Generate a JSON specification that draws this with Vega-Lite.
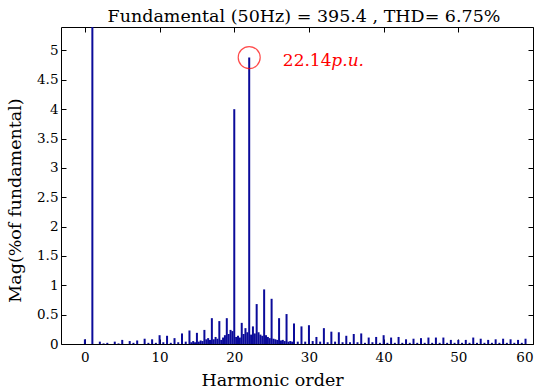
{
  "$schema": "https://vega.github.io/schema/vega-lite/v6.json",
  "autosize": "none",
  "width": 472,
  "height": 317,
  "padding": {"left": 61, "top": 27, "right": 17, "bottom": 47},
  "background": "white",
  "config": {
    "view": {"stroke": "black", "strokeWidth": 1},
    "font": "DejaVu Serif",
    "axis": {"labelFont": "DejaVu Serif", "titleFont": "DejaVu Serif", "labelFontSize": 13.5, "titleFontSize": 17.5, "titleFontWeight": "normal", "labelColor": "black", "titleColor": "black", "tickColor": "black", "domain": false, "grid": false, "tickSize": -5, "tickWidth": 1}
  },
  "title": {"text": "Fundamental (50Hz) = 395.4 , THD= 6.75%", "font": "DejaVu Serif", "fontSize": 17.5, "fontWeight": "normal", "color": "black", "anchor": "middle", "baseline": "alphabetic", "offset": -13, "dx": 7},
  "datasets": {
    "spec": [
      {"h": 0, "mag": 0.08}, {"h": 1, "mag": 100}, {"h": 2, "mag": 0.04}, {"h": 3, "mag": 0.02}, {"h": 4, "mag": 0.04},
      {"h": 5, "mag": 0.07}, {"h": 6, "mag": 0.05}, {"h": 7, "mag": 0.06}, {"h": 8, "mag": 0.09}, {"h": 9, "mag": 0.08},
      {"h": 10, "mag": 0.15}, {"h": 11, "mag": 0.14}, {"h": 12, "mag": 0.10}, {"h": 13, "mag": 0.18}, {"h": 14, "mag": 0.23},
      {"h": 15, "mag": 0.19}, {"h": 16, "mag": 0.24}, {"h": 17, "mag": 0.44}, {"h": 18, "mag": 0.39}, {"h": 19, "mag": 0.44},
      {"h": 20, "mag": 4.0}, {"h": 21, "mag": 0.36}, {"h": 22, "mag": 4.88}, {"h": 23, "mag": 0.68}, {"h": 24, "mag": 0.93},
      {"h": 25, "mag": 0.77}, {"h": 26, "mag": 0.44}, {"h": 27, "mag": 0.51}, {"h": 28, "mag": 0.35}, {"h": 29, "mag": 0.30},
      {"h": 30, "mag": 0.32}, {"h": 31, "mag": 0.12}, {"h": 32, "mag": 0.27}, {"h": 33, "mag": 0.21}, {"h": 34, "mag": 0.20},
      {"h": 35, "mag": 0.14}, {"h": 36, "mag": 0.17}, {"h": 37, "mag": 0.18}, {"h": 38, "mag": 0.11}, {"h": 39, "mag": 0.12},
      {"h": 40, "mag": 0.15}, {"h": 41, "mag": 0.11}, {"h": 42, "mag": 0.12}, {"h": 43, "mag": 0.08}, {"h": 44, "mag": 0.09},
      {"h": 45, "mag": 0.10}, {"h": 46, "mag": 0.11}, {"h": 47, "mag": 0.11}, {"h": 48, "mag": 0.11}, {"h": 49, "mag": 0.07},
      {"h": 50, "mag": 0.07}, {"h": 51, "mag": 0.07}, {"h": 52, "mag": 0.11}, {"h": 53, "mag": 0.09}, {"h": 54, "mag": 0.07},
      {"h": 55, "mag": 0.08}, {"h": 56, "mag": 0.09}, {"h": 57, "mag": 0.08}, {"h": 58, "mag": 0.07}, {"h": 59, "mag": 0.09},
      {"h": 2.5, "mag": 0.01}, {"h": 4.5, "mag": 0.01}, {"h": 6.5, "mag": 0.02}, {"h": 8.5, "mag": 0.02}, {"h": 9.5, "mag": 0.02},
      {"h": 10.5, "mag": 0.03}, {"h": 11.5, "mag": 0.02}, {"h": 12.5, "mag": 0.03}, {"h": 13.5, "mag": 0.04},
      {"h": 14.25, "mag": 0.03}, {"h": 14.5, "mag": 0.05}, {"h": 14.75, "mag": 0.03},
      {"h": 15.25, "mag": 0.04}, {"h": 15.5, "mag": 0.06}, {"h": 15.75, "mag": 0.05},
      {"h": 16.25, "mag": 0.08}, {"h": 16.5, "mag": 0.10}, {"h": 16.75, "mag": 0.07},
      {"h": 17.25, "mag": 0.08}, {"h": 17.5, "mag": 0.12}, {"h": 17.75, "mag": 0.09},
      {"h": 18.25, "mag": 0.07}, {"h": 18.5, "mag": 0.11}, {"h": 18.75, "mag": 0.15},
      {"h": 19.25, "mag": 0.17}, {"h": 19.5, "mag": 0.24}, {"h": 19.75, "mag": 0.22},
      {"h": 20.25, "mag": 0.12}, {"h": 20.5, "mag": 0.14}, {"h": 20.75, "mag": 0.11},
      {"h": 21.25, "mag": 0.17}, {"h": 21.5, "mag": 0.27}, {"h": 21.75, "mag": 0.20},
      {"h": 22.25, "mag": 0.16}, {"h": 22.5, "mag": 0.30}, {"h": 22.75, "mag": 0.18},
      {"h": 23.25, "mag": 0.20}, {"h": 23.5, "mag": 0.16}, {"h": 23.75, "mag": 0.14},
      {"h": 24.25, "mag": 0.15}, {"h": 24.5, "mag": 0.12}, {"h": 24.75, "mag": 0.10},
      {"h": 25.25, "mag": 0.09}, {"h": 25.5, "mag": 0.08}, {"h": 25.75, "mag": 0.07},
      {"h": 26.25, "mag": 0.06}, {"h": 26.5, "mag": 0.07}, {"h": 26.75, "mag": 0.05},
      {"h": 27.25, "mag": 0.04}, {"h": 27.5, "mag": 0.05}, {"h": 27.75, "mag": 0.04},
      {"h": 28.5, "mag": 0.04}, {"h": 29.5, "mag": 0.04}, {"h": 30.5, "mag": 0.05}, {"h": 31.5, "mag": 0.04},
      {"h": 32.5, "mag": 0.03}, {"h": 33.5, "mag": 0.04}, {"h": 34.5, "mag": 0.03}, {"h": 35.5, "mag": 0.03},
      {"h": 36.5, "mag": 0.03}, {"h": 37.5, "mag": 0.02}, {"h": 38.5, "mag": 0.03}, {"h": 39.5, "mag": 0.02},
      {"h": 40.5, "mag": 0.02}, {"h": 41.5, "mag": 0.02}, {"h": 42.5, "mag": 0.02}, {"h": 43.5, "mag": 0.02},
      {"h": 44.5, "mag": 0.02}, {"h": 45.5, "mag": 0.02}, {"h": 46.5, "mag": 0.02}, {"h": 47.5, "mag": 0.02},
      {"h": 48.5, "mag": 0.02}, {"h": 49.5, "mag": 0.02}, {"h": 50.5, "mag": 0.02}, {"h": 51.5, "mag": 0.02},
      {"h": 52.5, "mag": 0.02}, {"h": 53.5, "mag": 0.02}, {"h": 54.5, "mag": 0.02}, {"h": 55.5, "mag": 0.02},
      {"h": 56.5, "mag": 0.02}, {"h": 57.5, "mag": 0.02}, {"h": 58.5, "mag": 0.02}
    ],
    "note": [{"h": 22, "mag": 4.88, "lx": 26.5, "px": 33.0, "ly": 4.73, "num": "22.14", "unit": "p.u."}]
  },
  "layer": [
    {
      "data": {"name": "spec"},
      "mark": {"type": "bar", "size": 2, "color": "#0b0b9a", "clip": true},
      "encoding": {
        "x": {"field": "h", "type": "quantitative", "scale": {"domain": [-3.2, 60], "nice": false, "zero": false, "padding": 0},
          "axis": {"orient": "bottom", "values": [0, 10, 20, 30, 40, 50, 60], "labelPadding": 11, "title": "Harmonic order", "titleX": 211, "titleY": 41, "titleBaseline": "alphabetic", "titleAlign": "center", "titleAnchor": null}},
        "y": {"field": "mag", "type": "quantitative", "scale": {"domain": [0, 5.4], "nice": false, "padding": 0},
          "axis": {"orient": "left", "values": [0, 0.5, 1, 1.5, 2, 2.5, 3, 3.5, 4, 4.5, 5], "format": "~g", "labelPadding": 8, "title": "Mag(%of fundamental)", "titleX": -41, "titleY": 173, "titleBaseline": "alphabetic", "titleAlign": "center", "titleAnchor": null, "titleAngle": -90}}
      }
    },
    {
      "data": {"name": "note"},
      "mark": {"type": "point", "shape": "circle", "filled": false, "stroke": "red", "strokeWidth": 1.2, "size": 484},
      "encoding": {
        "x": {"field": "h", "type": "quantitative", "axis": {"orient": "top", "values": [0, 10, 20, 30, 40, 50, 60], "labels": false, "title": null}},
        "y": {"field": "mag", "type": "quantitative", "axis": {"orient": "right", "values": [0, 0.5, 1, 1.5, 2, 2.5, 3, 3.5, 4, 4.5, 5], "labels": false, "title": null}}
      }
    },
    {
      "data": {"name": "note"},
      "mark": {"type": "text", "color": "red", "font": "DejaVu Serif", "fontSize": 17, "align": "left", "baseline": "alphabetic"},
      "encoding": {
        "x": {"field": "lx", "type": "quantitative", "axis": null},
        "y": {"field": "ly", "type": "quantitative", "axis": null},
        "text": {"field": "num"}
      }
    },
    {
      "data": {"name": "note"},
      "mark": {"type": "text", "color": "red", "font": "DejaVu Serif", "fontSize": 17, "fontStyle": "italic", "align": "left", "baseline": "alphabetic"},
      "encoding": {
        "x": {"field": "px", "type": "quantitative", "axis": null},
        "y": {"field": "ly", "type": "quantitative", "axis": null},
        "text": {"field": "unit"}
      }
    }
  ]
}
